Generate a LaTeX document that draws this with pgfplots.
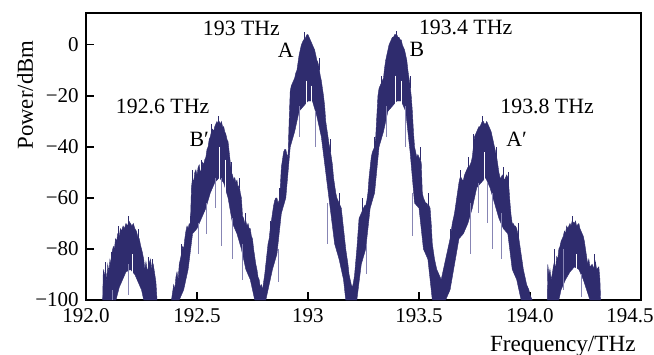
\documentclass[border=0pt]{standalone}
\usepackage{pgfplots}
\pgfplotsset{compat=1.18}
\usepackage{fontspec}
\setmainfont{Liberation Serif}
\definecolor{navy}{RGB}{47,44,110}
\definecolor{lightnavy}{RGB}{135,133,180}
\begin{document}
\begin{tikzpicture}
\fontsize{10.5}{12}\selectfont
\begin{axis}[
  at={(0,0)}, anchor=south west,
  scale only axis, width=277.5pt, height=143.5pt,
  xmin=192, xmax=194.5, ymin=-100, ymax=12.5,
  xtick={192,192.5,193,193.5,194},
  xticklabels={192.0,192.5,193,193.5,194.0},
  extra x ticks={194.5},
  extra x tick labels={194.5},
  extra x tick style={xticklabel style={xshift=-5.5pt}},
  ytick={-100,-80,-60,-40,-20,0},
  yticklabels={−100,−80,−60,−40,−20,0},
  tick pos=left, tick align=inside,
  major tick length=4pt,
  axis line style={line width=0.6pt},
  tick style={line width=0.6pt, black},
  ticklabel style={font=\fontsize{10.5}{12}\selectfont},
  xticklabel style={yshift=-0.5pt},
  ylabel={Power/dBm},
  ylabel style={at={(rel axis cs:0,0.714)}, anchor=center, yshift=30.5pt, font=\fontsize{11.4}{13}\selectfont},
  xlabel={Frequency/THz},
  xlabel style={at={(rel axis cs:1,0)}, anchor=north east, yshift=-14.5pt, xshift=1pt, font=\fontsize{11.6}{13}\selectfont},
  clip=true,
]
% lobe 192.2 THz
\addplot[fill=navy, draw=navy, line width=0.2pt] coordinates {
(192.075,-100)(192.078,-88)(192.083,-91)(192.088,-87)(192.093,-93)(192.098,-86)(192.103,-89)(192.108,-84)(192.113,-86)(192.118,-81)(192.123,-79)(192.128,-80)(192.133,-76)(192.138,-77)(192.143,-74)(192.15,-75)(192.155,-72)(192.16,-73)(192.167,-71)(192.173,-72)(192.18,-70)(192.187,-71)(192.193,-69)(192.2,-70)(192.207,-71)(192.213,-70)(192.22,-72)(192.227,-73)(192.233,-75)(192.24,-76)(192.247,-79)(192.253,-81)(192.26,-84)(192.265,-88)(192.27,-85)(192.277,-89)(192.283,-86)(192.29,-84)(192.297,-88)(192.303,-86)(192.31,-90)(192.315,-93)(192.32,-100)
(192.26,-100)(192.25,-96)(192.235,-93)(192.22,-90)(192.2,-88)(192.18,-89)(192.165,-92)(192.15,-95)(192.135,-100)(192.075,-100)
} -- cycle;
% main lobes 192.6 - 193.8 THz
\addplot[fill=navy, draw=navy, line width=0.2pt] coordinates {
(192.385,-100)(192.39,-97)(192.395,-94)(192.40,-96)(192.405,-91)(192.41,-89)(192.415,-92)(192.42,-86)(192.425,-84)(192.43,-82)(192.435,-79)(192.44,-80)(192.445,-76)(192.45,-73)(192.455,-71)(192.46,-72)(192.465,-70)(192.47,-71)(192.475,-56)(192.48,-52)(192.485,-54)(192.49,-50)(192.495,-49)(192.50,-51)(192.505,-48)(192.51,-47)(192.515,-50)(192.52,-49)(192.525,-46)(192.53,-47)(192.535,-45)(192.54,-44)(192.545,-41)(192.55,-40)(192.555,-37)(192.56,-36)(192.565,-34)(192.57,-33)(192.575,-34)(192.58,-32)(192.585,-31)(192.59,-30)(192.595,-31)(192.60,-30)(192.605,-31)(192.61,-30)(192.615,-32)(192.62,-32)(192.625,-34)(192.63,-35)(192.635,-37)(192.64,-38)(192.645,-42)(192.65,-46)(192.655,-50)(192.66,-51)(192.665,-53)(192.67,-52)(192.675,-54)(192.68,-53)(192.685,-56)(192.69,-55)(192.695,-58)(192.70,-60)(192.705,-67)(192.71,-68)(192.715,-70)(192.72,-69)(192.725,-71)(192.73,-70)(192.735,-72)(192.74,-72)(192.745,-75)(192.75,-76)(192.755,-80)(192.76,-83)(192.765,-86)(192.77,-88)(192.775,-91)(192.78,-92)(192.785,-95)(192.79,-94)(192.795,-96)(192.80,-93)(192.805,-90)(192.81,-86)(192.815,-82)(192.82,-78)(192.825,-76)(192.83,-72)(192.835,-69)(192.84,-66)(192.845,-63)(192.85,-61)(192.855,-60)(192.86,-60)(192.865,-62)(192.87,-61)(192.875,-56)(192.88,-48)(192.885,-45)(192.89,-42)(192.895,-41)(192.90,-41)(192.905,-43)(192.91,-44)(192.915,-30)(192.92,-18)(192.925,-16)(192.93,-15)(192.935,-14)(192.94,-13)(192.945,-11)(192.95,-10)(192.955,-7)(192.96,-4)(192.965,-2)(192.97,0)(192.975,1)(192.98,2)(192.985,2)(192.99,3)(192.995,4)(193.00,4)(193.005,3)(193.01,2)(193.015,1)(193.02,0)(193.025,-1)(193.03,-2)(193.035,-4)(193.04,-6)(193.045,-7)(193.05,-9)(193.055,-12)(193.06,-14)(193.065,-17)(193.07,-20)(193.075,-24)(193.08,-30)(193.085,-33)(193.09,-36)(193.095,-39)(193.10,-41)(193.105,-44)(193.11,-47)(193.115,-52)(193.12,-55)(193.125,-58)(193.13,-60)(193.135,-61)(193.14,-62)(193.145,-63)(193.15,-64)(193.155,-68)(193.16,-72)(193.165,-76)(193.17,-80)(193.175,-83)(193.18,-86)(193.185,-90)(193.19,-92)(193.195,-94)(193.20,-95)(193.205,-93)(193.21,-90)(193.215,-85)(193.22,-80)(193.225,-74)(193.23,-68)(193.235,-67)(193.24,-66)(193.245,-65)(193.25,-64)(193.255,-63)(193.26,-63)(193.265,-61)(193.27,-58)(193.275,-52)(193.28,-48)(193.285,-44)(193.29,-42)(193.295,-41)(193.30,-40)(193.305,-36)(193.31,-28)(193.315,-20)(193.32,-17)(193.325,-16)(193.33,-15)(193.335,-14)(193.34,-13)(193.345,-9)(193.35,-6)(193.355,-4)(193.36,-2)(193.365,0)(193.37,1)(193.375,2)(193.38,3)(193.385,3)(193.39,4)(193.395,4)(193.40,4)(193.405,3)(193.41,3)(193.415,2)(193.42,2)(193.425,0)(193.43,-1)(193.435,-2)(193.44,-4)(193.445,-6)(193.45,-10)(193.455,-13)(193.46,-16)(193.465,-20)(193.47,-26)(193.475,-34)(193.48,-40)(193.485,-42)(193.49,-44)(193.495,-43)(193.50,-44)(193.505,-45)(193.51,-46)(193.515,-58)(193.52,-60)(193.525,-61)(193.53,-62)(193.535,-62)(193.54,-63)(193.545,-63)(193.55,-64)(193.555,-70)(193.56,-78)(193.565,-81)(193.57,-84)(193.575,-86)(193.58,-88)(193.585,-89)(193.59,-90)(193.595,-91)(193.60,-92)(193.605,-90)(193.61,-88)(193.615,-86)(193.62,-84)(193.625,-82)(193.63,-80)(193.635,-78)(193.64,-76)(193.645,-73)(193.65,-70)(193.655,-68)(193.66,-66)(193.665,-63)(193.67,-60)(193.675,-57)(193.68,-54)(193.685,-52)(193.69,-52)(193.695,-53)(193.70,-53)(193.705,-51)(193.71,-50)(193.715,-49)(193.72,-48)(193.725,-48)(193.73,-47)(193.735,-46)(193.74,-44)(193.745,-40)(193.75,-36)(193.755,-35)(193.76,-34)(193.765,-33)(193.77,-32)(193.775,-32)(193.78,-31)(193.785,-30)(193.79,-30)(193.795,-31)(193.80,-31)(193.805,-30)(193.81,-31)(193.815,-32)(193.82,-33)(193.825,-34)(193.83,-36)(193.835,-38)(193.84,-40)(193.845,-42)(193.85,-44)(193.855,-47)(193.86,-50)(193.865,-52)(193.87,-52)(193.875,-51)(193.88,-52)(193.885,-53)(193.89,-52)(193.895,-51)(193.90,-52)(193.905,-56)(193.91,-62)(193.915,-67)(193.92,-70)(193.925,-70)(193.93,-71)(193.935,-71)(193.94,-72)(193.945,-74)(193.95,-76)(193.955,-79)(193.96,-82)(193.965,-85)(193.97,-88)(193.975,-90)(193.98,-92)(193.985,-94)(193.99,-95)(193.995,-96)(194.00,-98)(194.01,-100)
(193.98,-100)(193.96,-100)(193.95,-96)(193.94,-92)(193.92,-88)(193.90,-74)(193.88,-72)(193.86,-68)(193.84,-62)(193.82,-56)(193.80,-52)(193.78,-54)(193.76,-56)(193.74,-64)(193.72,-70)(193.70,-74)(193.68,-76)(193.66,-86)(193.64,-96)(193.62,-100)(193.56,-100)(193.54,-84)(193.52,-80)(193.50,-64)(193.48,-62)(193.46,-42)(193.44,-26)(193.42,-22)(193.40,-22)(193.38,-24)(193.36,-26)(193.34,-34)(193.32,-40)(193.30,-58)(193.28,-64)(193.26,-80)(193.24,-86)(193.22,-100)(193.17,-100)(193.16,-92)(193.14,-84)(193.12,-78)(193.10,-64)(193.08,-50)(193.06,-36)(193.04,-28)(193.02,-22)(193.00,-22)(192.98,-24)(192.96,-26)(192.94,-34)(192.92,-40)(192.90,-60)(192.88,-66)(192.86,-82)(192.84,-88)(192.82,-96)(192.81,-100)(192.76,-100)(192.74,-92)(192.72,-88)(192.70,-80)(192.68,-74)(192.66,-70)(192.64,-60)(192.62,-54)(192.60,-52)(192.58,-54)(192.56,-58)(192.54,-64)(192.52,-68)(192.50,-72)(192.48,-74)(192.46,-88)(192.44,-96)(192.42,-100)(192.385,-100)
} -- cycle;
% lobe 194.2 THz
\addplot[fill=navy, draw=navy, line width=0.2pt] coordinates {
(194.078,-100)(194.08,-86)(194.085,-90)(194.09,-88)(194.095,-92)(194.10,-90)(194.105,-87)(194.11,-85)(194.115,-88)(194.12,-83)(194.125,-84)(194.13,-80)(194.135,-79)(194.14,-77)(194.15,-75)(194.155,-73)(194.16,-74)(194.165,-71)(194.17,-72)(194.18,-70)(194.185,-71)(194.19,-69)(194.2,-70)(194.205,-69)(194.21,-71)(194.22,-70)(194.225,-72)(194.23,-73)(194.24,-75)(194.245,-77)(194.25,-80)(194.255,-83)(194.26,-86)(194.265,-84)(194.27,-87)(194.28,-86)(194.29,-88)(194.295,-85)(194.3,-88)(194.31,-87)(194.315,-92)(194.318,-100)
(194.27,-100)(194.255,-96)(194.24,-92)(194.22,-88)(194.2,-87)(194.18,-89)(194.16,-92)(194.14,-96)(194.13,-100)(194.078,-100)
} -- cycle;
% dark hairs on the upper edge
\addplot[navy, line width=0.5pt, unbounded coords=jump] coordinates {
(192.09,-92)(192.09,-85) (192.091,nan)
(192.115,-86)(192.115,-81) (192.116,nan)
(192.145,-75)(192.145,-71) (192.146,nan)
(192.19,-71)(192.19,-67) (192.191,nan)
(192.235,-76)(192.235,-72) (192.236,nan)
(192.28,-88)(192.28,-83) (192.281,nan)
(192.30,-88)(192.30,-84) (192.301,nan)
(192.43,-83)(192.43,-78) (192.431,nan)
(192.47,-72)(192.47,-67) (192.471,nan)
(192.48,-54)(192.48,-49) (192.481,nan)
(192.52,-50)(192.52,-45) (192.521,nan)
(192.565,-35)(192.565,-31) (192.566,nan)
(192.598,-31)(192.598,-28) (192.599,nan)
(192.655,-51)(192.655,-46) (192.656,nan)
(192.69,-56)(192.69,-52) (192.691,nan)
(192.72,-70)(192.72,-66) (192.721,nan)
(192.83,-73)(192.83,-69) (192.831,nan)
(192.87,-62)(192.87,-56) (192.871,nan)
(192.985,2)(192.985,5) (192.986,nan)
(193.05,-10)(193.05,-5) (193.051,nan)
(193.1,-42)(193.1,-37) (193.101,nan)
(193.14,-63)(193.14,-58) (193.141,nan)
(193.245,-66)(193.245,-60) (193.246,nan)
(193.30,-41)(193.30,-36) (193.301,nan)
(193.33,-16)(193.33,-12) (193.331,nan)
(193.40,3)(193.40,5.5) (193.401,nan)
(193.46,-17)(193.46,-12) (193.461,nan)
(193.505,-45)(193.505,-40) (193.506,nan)
(193.545,-64)(193.545,-58) (193.546,nan)
(193.64,-77)(193.64,-72) (193.641,nan)
(193.685,-53)(193.685,-49) (193.686,nan)
(193.725,-49)(193.725,-44) (193.726,nan)
(193.745,-41)(193.745,-35) (193.746,nan)
(193.785,-31)(193.785,-28) (193.786,nan)
(193.85,-45)(193.85,-40) (193.851,nan)
(193.88,-53)(193.88,-48) (193.881,nan)
(193.905,-57)(193.905,-50) (193.906,nan)
(193.95,-77)(193.95,-70) (193.951,nan)
(194.11,-86)(194.11,-80) (194.111,nan)
(194.19,-70)(194.19,-67) (194.191,nan)
(194.29,-88)(194.29,-82) (194.291,nan)
};
% light spikes below the band
\addplot[lightnavy, line width=0.5pt, unbounded coords=jump] coordinates {
(192.545,-62)(192.545,-74) (192.55,nan)
(192.61,-52)(192.61,-79) (192.615,nan)
(192.66,-68)(192.66,-84) (192.665,nan)
(192.707,-78)(192.707,-92) (192.71,nan)
(192.865,-80)(192.865,-93) (192.87,nan)
(193.09,-62)(193.09,-78) (193.095,nan)
(193.265,-78)(193.265,-90) (193.27,nan)
(193.47,-58)(193.47,-75) (193.475,nan)
(193.73,-62)(193.73,-82) (193.735,nan)
(193.83,-58)(193.83,-80) (193.835,nan)
(193.87,-66)(193.87,-84) (193.875,nan)
(194.15,-80)(194.15,-96) (194.155,nan)
(192.19,-86)(192.19,-98) (192.195,nan)
(192.505,-70)(192.505,-82) (192.506,nan)
(192.585,-52)(192.585,-64) (192.586,nan)
(192.96,-24)(192.96,-36) (192.961,nan)
(193.035,-26)(193.035,-40) (193.036,nan)
(193.355,-24)(193.355,-36) (193.356,nan)
(193.44,-24)(193.44,-40) (193.441,nan)
(193.77,-54)(193.77,-66) (193.771,nan)
(193.81,-54)(193.81,-70) (193.811,nan)
(194.23,-90)(194.23,-99) (194.231,nan)
(192.12,-96)(192.12,-100) (192.121,nan)
};
% white gaps inside the band
\addplot[white, line width=0.4pt, unbounded coords=jump] coordinates {
(192.6,-40)(192.6,-53) (192.602,nan)
(192.63,-45)(192.63,-58) (192.632,nan)
(192.995,-14)(192.995,-24) (192.997,nan)
(193.015,-16)(193.015,-26) (193.017,nan)
(193.395,-12)(193.395,-24) (193.397,nan)
(193.42,-14)(193.42,-28) (193.422,nan)
(193.795,-42)(193.795,-54) (193.797,nan)
(192.21,-82)(192.21,-92) (192.212,nan)
(194.21,-82)(194.21,-90) (194.212,nan)
};
\node[font=\fontsize{10.9}{12}\selectfont] at (axis cs:192.70,6.6) {193 THz};
\node[font=\fontsize{10.9}{12}\selectfont] at (axis cs:192.90,-2) {A};
\node[font=\fontsize{10.9}{12}\selectfont] at (axis cs:193.71,6.8) {193.4 THz};
\node[font=\fontsize{10.9}{12}\selectfont] at (axis cs:193.49,-1.6) {B};
\node[font=\fontsize{10.9}{12}\selectfont] at (axis cs:192.345,-24) {192.6 THz};
\node[font=\fontsize{10.9}{12}\selectfont] at (axis cs:192.51,-37) {B′};
\node[font=\fontsize{10.9}{12}\selectfont] at (axis cs:194.077,-24) {193.8 THz};
\node[font=\fontsize{10.9}{12}\selectfont] at (axis cs:193.94,-37) {A′};
\end{axis}
\pgfresetboundingbox
\path[use as bounding box] (-43pt,-27pt) rectangle (284pt,150pt);
\end{tikzpicture}
\end{document}
